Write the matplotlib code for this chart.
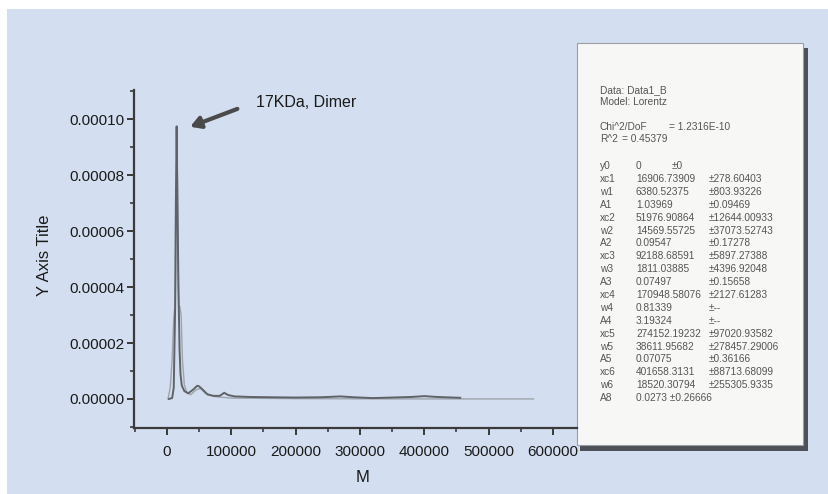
import numpy as np
import matplotlib
matplotlib.use("Agg")
import matplotlib.pyplot as plt
from matplotlib.patches import Rectangle
from matplotlib.ticker import FormatStrFormatter, MultipleLocator

plt.rcParams['font.family'] = ['Liberation Sans', 'DejaVu Sans']

# measured size distribution (dark trace)
m_data = [3000, 8000, 10500, 12500, 13800, 15000, 16300, 17800, 19500, 21000, 23000,
          27000, 33000, 40000, 47000, 50000, 56000, 63000, 72000, 82000, 89000, 95000,
          105000, 130000, 160000, 200000, 240000, 270000, 290000, 320000, 350000,
          380000, 400000, 420000, 456000]
y_data = [0.0, 0.0000003, 0.000004, 0.00003, 0.00007, 0.0000975, 0.00007, 0.00004,
          0.000018, 0.000009, 0.0000048, 0.0000028, 0.000002, 0.0000032, 0.0000047,
          0.0000045, 0.0000032, 0.0000016, 0.0000011, 0.0000011, 0.0000022, 0.0000014,
          0.0000009, 0.0000007, 0.0000006, 0.0000005, 0.0000006, 0.0000009, 0.0000006,
          0.0000003, 0.0000005, 0.0000007, 0.0000010, 0.0000007, 0.0000004]

# Lorentz fit (light trace)
m_fit = [1500, 5000, 8000, 10500, 11800, 13000, 14000, 15000, 16200, 17200, 18200,
         20000, 22000, 24000, 27000, 31000, 37000, 45000, 52000, 60000, 75000,
         100000, 200000, 350000, 570000]
y_fit = [0.0, 0.000004, 0.000014, 0.000029, 0.000032, 0.000031, 0.000055, 0.00008,
         0.00008, 0.00005, 0.000033, 0.000033, 0.00003, 0.000014, 0.000005, 0.0000022,
         0.0000015, 0.0000032, 0.0000038, 0.000002, 0.0000008, 0.0000003, 0.0000001,
         0.0, 0.0]

fit_report = [
    ("y0", "0", "±0"),
    ("xc1", "16906.73909", "±278.60403"),
    ("w1", "6380.52375", "±803.93226"),
    ("A1", "1.03969", "±0.09469"),
    ("xc2", "51976.90864", "±12644.00933"),
    ("w2", "14569.55725", "±37073.52743"),
    ("A2", "0.09547", "±0.17278"),
    ("xc3", "92188.68591", "±5897.27388"),
    ("w3", "1811.03885", "±4396.92048"),
    ("A3", "0.07497", "±0.15658"),
    ("xc4", "170948.58076", "±2127.61283"),
    ("w4", "0.81339", "±--"),
    ("A4", "3.19324", "±--"),
    ("xc5", "274152.19232", "±97020.93582"),
    ("w5", "38611.95682", "±278457.29006"),
    ("A5", "0.07075", "±0.36166"),
    ("xc6", "401658.3131", "±88713.68099"),
    ("w6", "18520.30794", "±255305.9335"),
    ("A8", "0.0273 ±0.26666", ""),
]

W, H = 829, 494
fig = plt.figure(figsize=(W / 100, H / 100), dpi=100, facecolor='white')


def fx(px):
    return px / W


def fy(py):
    return 1 - py / H


# light blue panel
fig.patches.append(Rectangle((fx(7), 0), 1 - fx(7), fy(9), transform=fig.transFigure,
                             facecolor='#d3dff0', edgecolor='none', zorder=-2))

# fit report card with shadow
fig.patches.append(Rectangle((fx(580), fy(451)), fx(808) - fx(580), fy(48) - fy(451),
                             transform=fig.transFigure, facecolor='#4d5157',
                             edgecolor='none', zorder=1))
fig.patches.append(Rectangle((fx(577), fy(445)), fx(803) - fx(577), fy(43) - fy(445),
                             transform=fig.transFigure, facecolor='#f7f7f6',
                             edgecolor='#9a9ea4', lw=0.8, zorder=2))

ax = fig.add_axes([fx(134), fy(428), fx(577) - fx(134), fy(90) - fy(428)])
ax.set_zorder(5)
ax.patch.set_alpha(0)
ax.set_xlim(-51300, 637600)
ax.set_ylim(-1.04e-5, 1.105e-4)

ax.plot(m_fit, y_fit, color='#9ea4ac', lw=1.0)
ax.plot(m_data, y_data, color='#5f6368', lw=1.4)

for s in ['top', 'right']:
    ax.spines[s].set_visible(False)
for s in ['left', 'bottom']:
    ax.spines[s].set_color('#3a3a3a')
    ax.spines[s].set_linewidth(1.6)

ax.xaxis.set_major_locator(MultipleLocator(100000))
ax.xaxis.set_minor_locator(MultipleLocator(50000))
ax.yaxis.set_major_locator(MultipleLocator(0.00002))
ax.yaxis.set_minor_locator(MultipleLocator(0.00001))
ax.xaxis.set_major_formatter(FormatStrFormatter('%d'))
ax.yaxis.set_major_formatter(FormatStrFormatter('%.5f'))
ax.tick_params(axis='both', which='major', length=5, width=1.4, color='#3a3a3a',
               labelsize=11, labelcolor='#1a1a1a')
ax.tick_params(axis='both', which='minor', length=3, width=1.2, color='#3a3a3a')
ax.tick_params(axis='x', which='major', pad=7)
ax.tick_params(axis='y', which='major', pad=2)
ax.set_xticks([0, 100000, 200000, 300000, 400000, 500000, 600000])
ax.set_yticks([0, 0.00002, 0.00004, 0.00006, 0.00008, 0.0001])

ax.set_xlabel('M', fontsize=12, color='#1a1a1a')
ax.set_ylabel('Y Axis Title', fontsize=12, color='#1a1a1a')
ax.xaxis.set_label_coords(0.517, -0.124)
ax.yaxis.set_label_coords(-0.185, 0.512)

ax.annotate('', xy=(32000, 9.70e-5), xytext=(113500, 1.041e-4),
            arrowprops=dict(arrowstyle='-|>,head_length=0.6,head_width=0.35',
                            color='#4a4a4a', lw=3))
ax.text(138400, 1.059e-4, '17KDa, Dimer', fontsize=11.5, color='#1a1a1a',
        va='center', ha='left')

txt = dict(fontsize=7.3, color='#555555', va='center', ha='left', zorder=6)
fig.text(fx(600), fy(90), 'Data: Data1_B', **txt)
fig.text(fx(600), fy(102), 'Model: Lorentz', **txt)
fig.text(fx(600), fy(127), 'Chi^2/DoF', **txt)
fig.text(fx(669), fy(127), '= 1.2316E-10', **txt)
fig.text(fx(600), fy(139), 'R^2', **txt)
fig.text(fx(622), fy(139), '= 0.45379', **txt)

row_y = 166
for name, val, err in fit_report:
    fig.text(fx(600), fy(row_y), name, **txt)
    fig.text(fx(636), fy(row_y), val, **txt)
    err_x = 672 if name == 'y0' else 709
    if err:
        fig.text(fx(err_x), fy(row_y), err, **txt)
    row_y += 12.9

fig.savefig('out.png', dpi=100)
